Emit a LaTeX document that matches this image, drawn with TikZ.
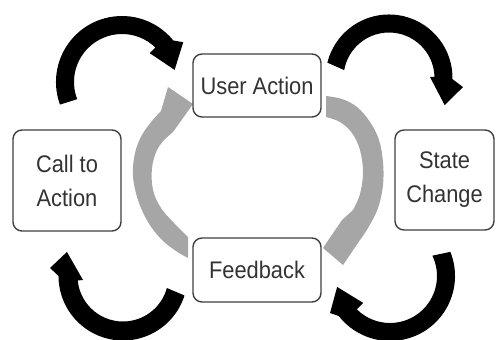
\documentclass[tikz,border=0pt]{standalone}
\usepackage{fontspec}
\newfontfamily\boxfont{Liberation Sans}[FakeStretch=0.91]
\definecolor{ringgray}{HTML}{A6A6A6}
\definecolor{boxline}{HTML}{404040}
\definecolor{boxtext}{HTML}{333333}

\begin{document}
\begin{tikzpicture}[x=1pt,y=-1pt,
  stage/.style={draw=boxline, line width=1.4pt, rounded corners=9pt, fill=white,
    text=boxtext, align=center, inner sep=0pt,
    font=\boxfont\fontsize{24}{34}\selectfont},
  loopband/.style={fill=ringgray},
  cycleband/.style={fill=black}]
\useasboundingbox (0,0) rectangle (496,340);

% inner grey loop, left half: from Feedback up to User Action
\fill[loopband]
  plot[smooth, tension=0.6] coordinates {(188,258) (176,251) (161,239) (148,222)
    (138,200) (133,176) (135,153) (142,135) (152,121) (161,111)}
  -- (168,87) -- (193,104) -- (173,132)
  -- plot[smooth, tension=0.6] coordinates {(165,139) (157,150) (152,168)
    (153,190) (161,208) (174,223) (188,237)}
  -- cycle;

% inner grey loop, right half: from User Action down to Feedback
\fill[loopband]
  plot[smooth, tension=0.6] coordinates {(326,96) (342,99) (357,107) (370,122)
    (379,140) (383,162) (383,185) (378,208) (368,228) (360,240)}
  -- (343,265) -- (323,248) -- (342,220)
  -- plot[smooth, tension=0.6] coordinates {(353,210) (360,194) (363,172)
    (360,150) (352,133) (340,122) (326,117)}
  -- cycle;

% outer black arrows, clockwise round each corner
\fill[cycleband, shift={(122,82)}]
  (160:66) arc[start angle=160, end angle=321, radius=66]
  -- (327:73) -- (347:54) -- (314:40)
  -- (314:48) arc[start angle=314, end angle=159, radius=48] -- cycle;

\fill[cycleband, shift={(389,78)}]
  (194:63.5) arc[start angle=194, end angle=361, radius=63.5]
  -- (367:74.5) -- (386:62) -- (358.6:41)
  -- (358.6:45.5) arc[start angle=358.6, end angle=190, radius=45.5] -- cycle;

\fill[cycleband, shift={(123,276)}]
  (17.6:64.5) arc[start angle=17.6, end angle=180, radius=64.5]
  -- (186.3:73.4) -- (203.2:61) -- (174.3:40.2)
  -- (174.3:45.5) arc[start angle=174.3, end angle=15.3, radius=45.5] -- cycle;

\fill[cycleband, shift={(390,276)}]
  (-21.8:65) arc[start angle=-21.8, end angle=142, radius=65]
  -- (148.3:70.5) -- (168.3:54) -- (135:38)
  -- (135:47) arc[start angle=135, end angle=-25.6, radius=47] -- cycle;

% stages
\node[stage, minimum width=128pt, minimum height=63pt] (useraction) at (257,85.5) {User Action};
\node[stage, minimum width=108pt, minimum height=101pt] (calltoaction) at (67,180.5) {Call to\\Action};
\node[stage, minimum width=99pt, minimum height=100pt] (statechange) at (444.5,180) {State\\Change};
\node[stage, minimum width=128pt, minimum height=64pt] (feedback) at (257,270) {Feedback};
\end{tikzpicture}
\end{document}
